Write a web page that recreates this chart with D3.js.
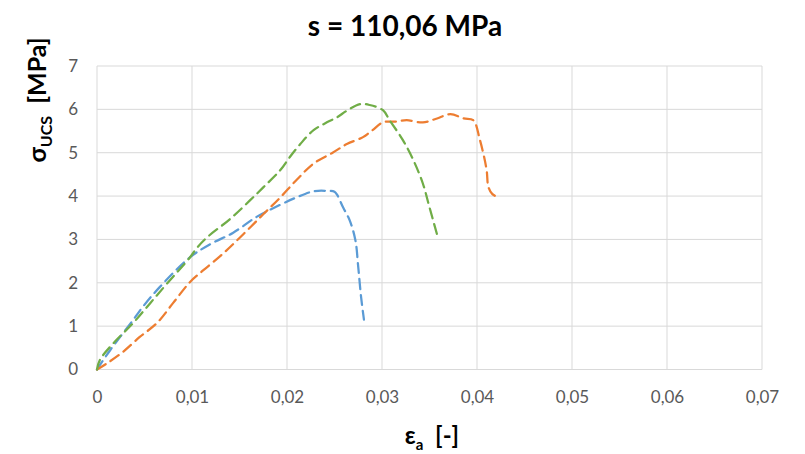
<!DOCTYPE html>
<html>
<head>
<meta charset="utf-8">
<script src="https://cdn.jsdelivr.net/npm/d3@7"></script>
<style>
  body { margin: 0; background: #fff; }
  svg { display: block; }
</style>
</head>
<body>
<svg id="chart" width="805" height="454"></svg>
<script>
const titleText = "s = 110,06 MPa";
const xTicks = [0, 0.01, 0.02, 0.03, 0.04, 0.05, 0.06, 0.07];
const yTicks = [0, 1, 2, 3, 4, 5, 6, 7];
const seriesColors = ["#5B9BD5", "#ED7D31", "#70AD47"];

const blueX = [0, 0.0014, 0.0038, 0.0048, 0.0066, 0.0098, 0.0120, 0.0143, 0.0168, 0.0193, 0.0210, 0.0228, 0.0242, 0.0250, 0.0253, 0.0259, 0.0266, 0.0272, 0.0275, 0.0278, 0.0281];
const blueY = [0, 0.45, 1.14, 1.44, 1.90, 2.59, 2.90, 3.15, 3.52, 3.80, 3.97, 4.11, 4.12, 4.10, 4.02, 3.74, 3.44, 2.98, 2.36, 1.67, 1.15];

const orangeX = [0, 0.0011, 0.0027, 0.0045, 0.0063, 0.0080, 0.0098, 0.0112, 0.0133, 0.0154, 0.0175, 0.0193, 0.0210, 0.0228, 0.0248, 0.0263, 0.0280, 0.0290, 0.0301, 0.0315, 0.0326, 0.0343, 0.0358, 0.0372, 0.0386, 0.0396, 0.0403, 0.0410, 0.0412, 0.0416, 0.0424];
const orangeY = [0, 0.15, 0.40, 0.75, 1.07, 1.53, 2.02, 2.29, 2.68, 3.12, 3.58, 3.97, 4.37, 4.75, 5.00, 5.20, 5.36, 5.52, 5.70, 5.72, 5.75, 5.70, 5.79, 5.89, 5.79, 5.75, 5.30, 4.62, 4.21, 4.05, 3.95];

const greenX = [0, 0.0003, 0.0017, 0.0038, 0.0056, 0.0074, 0.0098, 0.0105, 0.0116, 0.0140, 0.0161, 0.0175, 0.0193, 0.0203, 0.0214, 0.0228, 0.0242, 0.0253, 0.0263, 0.0277, 0.0287, 0.0301, 0.0308, 0.0322, 0.0333, 0.0343, 0.0350, 0.0359];
const greenY = [0, 0.22, 0.60, 1.07, 1.53, 1.99, 2.59, 2.80, 3.05, 3.47, 3.90, 4.20, 4.60, 4.90, 5.20, 5.52, 5.70, 5.82, 5.97, 6.12, 6.10, 5.98, 5.75, 5.29, 4.83, 4.29, 3.74, 3.03];

const series = [
  { xs: blueX, ys: blueY, color: seriesColors[0] },
  { xs: orangeX, ys: orangeY, color: seriesColors[1] },
  { xs: greenX, ys: greenY, color: seriesColors[2] }
];

const svg = d3.select("#chart");
const pLeft = 97, pRight = 762, pTop = 66, pBottom = 369.5;
const x = d3.scaleLinear().domain([0, 0.07]).range([pLeft, pRight]);
const y = d3.scaleLinear().domain([0, 7]).range([pBottom, pTop]);
const fmt = v => v === 0 ? "0" : d3.format(".2f")(v).replace(".", ",");
const font = "Lato, 'Open Sans', sans-serif";

// gridlines
svg.append("g").selectAll("line").data(yTicks).join("line")
  .attr("x1", pLeft).attr("x2", pRight)
  .attr("y1", d => y(d)).attr("y2", d => y(d))
  .attr("stroke", "#d9d9d9").attr("stroke-width", 1);
svg.append("g").selectAll("line").data(xTicks).join("line")
  .attr("y1", pTop).attr("y2", pBottom)
  .attr("x1", d => x(d)).attr("x2", d => x(d))
  .attr("stroke", "#d9d9d9").attr("stroke-width", 1);

// axes (labels only)
const xAxis = d3.axisBottom(x).tickValues(xTicks).tickFormat(fmt).tickSize(0).tickPadding(21);
const gx = svg.append("g").attr("transform", `translate(0,${pBottom})`).call(xAxis);
gx.select(".domain").remove();
gx.selectAll("text").attr("font-family", font).attr("font-size", 17).attr("fill", "#595959");

const yAxis = d3.axisLeft(y).tickValues(yTicks).tickFormat(d3.format("d")).tickSize(0).tickPadding(19);
const gy = svg.append("g").attr("transform", `translate(${pLeft},0)`).call(yAxis);
gy.select(".domain").remove();
gy.selectAll("text").attr("font-family", font).attr("font-size", 17).attr("fill", "#595959");

// lines
const lineC = d3.line().x(d => x(d[0])).y(d => y(d[1])).curve(d3.curveCatmullRom.alpha(0.5));
series.forEach(s => {
  const pts = s.xs.map((v, i) => [v, s.ys[i]]);
  svg.append("path").datum(pts)
    .attr("d", lineC)
    .attr("fill", "none")
    .attr("stroke", s.color)
    .attr("stroke-width", 2.25)
    .attr("stroke-dasharray", "10,6")
    .attr("stroke-linecap", "round");
});

// title
svg.append("text").attr("x", 405).attr("y", 36)
  .attr("text-anchor", "middle").attr("font-family", font)
  .attr("font-weight", "bold").attr("font-size", 28).attr("fill", "#000")
  .text(titleText);

// x label
const xl = svg.append("text").attr("x", 432).attr("y", 444)
  .attr("text-anchor", "middle").attr("font-family", font)
  .attr("font-weight", "bold").attr("font-size", 24).attr("fill", "#000");
xl.append("tspan").text("ε");
xl.append("tspan").attr("font-size", 15).attr("dy", 6).text("a");
xl.append("tspan").attr("dy", -6).text("\u00a0\u00a0[-]");

// y label
const yl = svg.append("text").attr("transform", "translate(46,100) rotate(-90)")
  .attr("text-anchor", "middle").attr("font-family", font)
  .attr("font-weight", "bold").attr("font-size", 25).attr("fill", "#000");
yl.append("tspan").text("σ");
yl.append("tspan").attr("font-size", 16).attr("dy", 6).text("UCS");
yl.append("tspan").attr("dy", -6).text("\u00a0\u00a0[MPa]");
</script>
</body>
</html>
